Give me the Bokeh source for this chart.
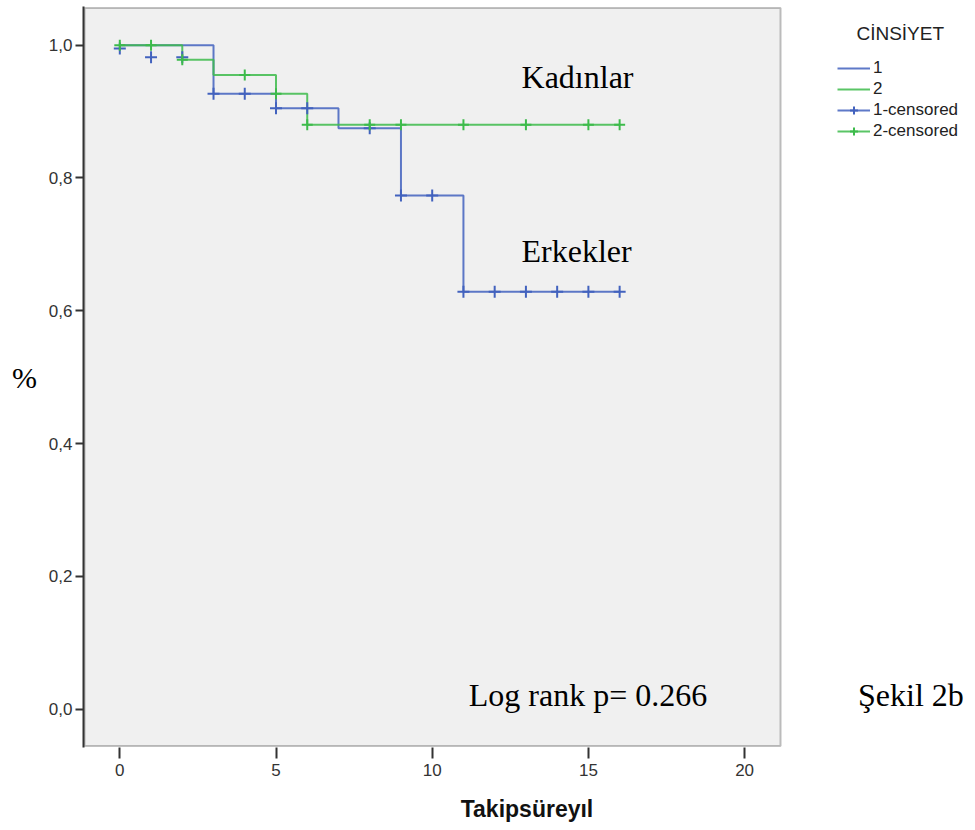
from bokeh.plotting import figure
from bokeh.models import (Range1d, FixedTicker, CustomJSTickFormatter, Label,
                          Legend, LegendItem, BoxAnnotation)
from bokeh.embed import file_html
from bokeh.resources import INLINE

# ---- data ----
male_t = [0, 3, 5, 7, 9, 11, 16]
male_s = [1.0, 0.927, 0.905, 0.875, 0.7735, 0.6285, 0.6285]
female_t = [0, 2, 3, 5, 6, 16]
female_s = [1.0, 0.978, 0.955, 0.927, 0.880, 0.880]

male_cens_t = [0, 1, 2, 3, 4, 5, 6, 8, 9, 10, 11, 12, 13, 14, 15, 16]
male_cens_s = [0.995, 0.982, 0.982, 0.927, 0.927, 0.905, 0.905, 0.875,
               0.7735, 0.7735, 0.6285, 0.6285, 0.6285, 0.6285, 0.6285, 0.6285]
female_cens_t = [0, 1, 2, 4, 5, 6, 8, 9, 11, 13, 15, 16]
female_cens_s = [1.0, 1.0, 0.978, 0.955, 0.927, 0.880, 0.880, 0.880,
                 0.880, 0.880, 0.880, 0.880]

x_ticks = [0, 5, 10, 15, 20]
y_ticks = [0.0, 0.2, 0.4, 0.6, 0.8, 1.0]

BLUE = "#4262BE"
GREEN = "#3DBB4B"
SERIF = "Liberation Serif"
SANS = "Liberation Sans"

# plot-box extent (in data units) and pixel scale
PX_X = 31.24
PX_Y = 666.7
box_l, box_r = -1.13, 21.15
box_b, box_t = -0.0555, 1.056

p = figure(frame_width=887, frame_height=741,
           min_border_left=83, min_border_right=0,
           min_border_top=6, min_border_bottom=75,
           x_range=Range1d(box_l - 1.0 / PX_X, box_l - 1.0 / PX_X + 887 / PX_X),
           y_range=Range1d(box_b - 1.5 / PX_Y, box_t + 1.5 / PX_Y),
           output_backend="svg", toolbar_location=None,
           background_fill_color="white", border_fill_color="white")

p.xgrid.visible = False
p.ygrid.visible = False
p.outline_line_color = None

# grey plotting box with dark border
p.add_layout(BoxAnnotation(left=box_l, right=box_r, bottom=box_b, top=box_t,
                           fill_color="#F0F0F0", fill_alpha=1.0,
                           line_color="#333333", line_width=2, level="underlay"))

for ax in (p.xaxis[0], p.yaxis[0]):
    ax.major_tick_line_color = "#333333"
    ax.major_tick_line_width = 2
    ax.major_tick_in = 0
    ax.minor_tick_line_color = None
    ax.major_label_text_font = SANS
    ax.major_label_text_font_size = "17px"
    ax.major_label_text_color = "#333333"

p.xaxis.axis_line_color = None
p.yaxis.axis_line_color = "#333333"
p.yaxis.axis_line_width = 2

p.xaxis.ticker = FixedTicker(ticks=x_ticks)
p.xaxis.major_tick_out = 11
p.xaxis.major_label_standoff = 5
p.xaxis.axis_label = "Takipsüreyıl"
p.xaxis.axis_label_text_font = SANS
p.xaxis.axis_label_text_font_style = "bold"
p.xaxis.axis_label_text_font_size = "23px"
p.xaxis.axis_label_text_color = "#111111"
p.xaxis.axis_label_standoff = 17

p.yaxis.ticker = FixedTicker(ticks=y_ticks)
p.yaxis.major_tick_out = 8
p.yaxis.major_label_standoff = 3
p.yaxis.formatter = CustomJSTickFormatter(code="return tick.toFixed(1).replace('.', ',')")
p.yaxis.axis_label = "%"
p.yaxis.axis_label_text_font = SERIF
p.yaxis.axis_label_text_font_style = "normal"
p.yaxis.axis_label_text_font_size = "30px"
p.yaxis.axis_label_text_color = "black"
p.yaxis.axis_label_standoff = 9
try:
    p.yaxis[0].axis_label_orientation = "horizontal"
except Exception:
    pass

# ---- survival curves ----
r_m = p.step(male_t, male_s, mode="after", line_color=BLUE, line_width=2, line_alpha=0.85)
r_f = p.step(female_t, female_s, mode="after", line_color=GREEN, line_width=2, line_alpha=0.85)
c_m = p.scatter(male_cens_t, male_cens_s, marker="cross", size=12,
                line_color=BLUE, line_width=2)
c_f = p.scatter(female_cens_t, female_cens_s, marker="cross", size=11,
                line_color=GREEN, line_width=2)

# ---- annotations ----
def lab(x, y, text, size, font=SERIF, align="left", baseline="middle", color="black"):
    p.add_layout(Label(x=x, y=y, text=text, text_font=font, text_font_size=size,
                       text_align=align, text_baseline=baseline, text_color=color))

lab(12.86, 0.9525, "Kadınlar", "32px")
lab(12.86, 0.690, "Erkekler", "32px")
lab(11.17, 0.021, "Log rank p= 0.266", "32px")
lab(23.63, 0.021, "Şekil 2b", "32px")
lab(23.58, 1.0174, "CİNSİYET", "19px", font=SANS, color="#222222")

legend = Legend(items=[
    LegendItem(label="1", renderers=[r_m]),
    LegendItem(label="2", renderers=[r_f]),
    LegendItem(label="1-censored", renderers=[r_m, c_m]),
    LegendItem(label="2-censored", renderers=[r_f, c_f]),
], location=(754, 606))
legend.background_fill_alpha = 0
legend.border_line_color = None
legend.padding = 0
legend.margin = 0
legend.spacing = 1
legend.glyph_width = 33
legend.glyph_height = 20
legend.label_height = 20
legend.label_standoff = 3
legend.label_text_font = SANS
legend.label_text_font_size = "17px"
legend.label_text_color = "#222222"
legend.label_text_baseline = "middle"
p.add_layout(legend, "center")

open("out.html", "w").write(file_html(p, INLINE))
